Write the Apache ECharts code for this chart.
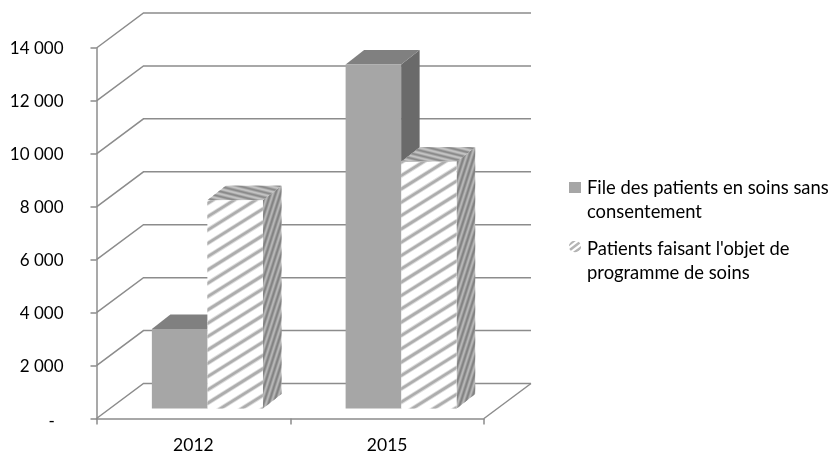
<!DOCTYPE html>
<html>
<head>
<meta charset="utf-8">
<script src="https://cdn.jsdelivr.net/npm/echarts@6/dist/echarts.min.js"></script>
<style>html,body{margin:0;padding:0;background:#fff}#c{width:833px;height:453px}</style>
</head>
<body>
<div id="c"></div>
<script>
var categories = ['2012', '2015'];
var seriesFile = [3000, 13000];
var seriesProgramme = [7870, 9320];
var yTicks = [0, 2000, 4000, 6000, 8000, 10000, 12000, 14000];
var seriesNames = ['File des patients en soins sans consentement', "Patients faisant l'objet de programme de soins"];
var legendLabels = ['File des patients en soins sans\nconsentement', "Patients faisant l'objet de\nprogramme de soins"];

var FONT = 'Lato';
var GREY = '#8c8c8c';
var WALL = [47, 35];      // projected depth of the floor
var LIFT = [14, 10];      // bars stand this far into the floor
var BAR = [18.5, 14.5];   // projected depth of a bar
var BAR_FRAC = 0.2865;    // bar width as share of the category band

function legendIcon(kind, offset) {
  var c = document.createElement('canvas');
  c.width = 12; c.height = 40;
  var g = c.getContext('2d');
  if (kind === 0) {
    g.fillStyle = '#a6a6a6';
    g.fillRect(0, offset, 12, 11);
  } else {
    g.save();
    g.beginPath();
    g.ellipse(6, offset + 5.5, 6.2, 5.8, 0, 0, Math.PI * 2);
    g.clip();
    g.strokeStyle = '#b4b4b4';
    g.lineWidth = 2.6;
    [-3, 3, 9, 15, 21].forEach(function (d) {
      g.beginPath();
      g.moveTo(-2, offset + d + 2);
      g.lineTo(14, offset + d - 10);
      g.stroke();
    });
    g.restore();
  }
  return 'image://' + c.toDataURL();
}

function polygon(points, fill) {
  return { type: 'polygon', shape: { points: points }, style: { fill: fill } };
}

// Fills a face with a base colour and clipped stripes running along (dx, dy).
function hatchedFace(points, base, stripe, dx, dy, period, width, soft) {
  var xs = points.map(function (p) { return p[0]; });
  var ys = points.map(function (p) { return p[1]; });
  var cx = (Math.min.apply(null, xs) + Math.max.apply(null, xs)) / 2;
  var len = Math.sqrt(dx * dx + dy * dy);
  var ux = dx / len, uy = dy / len, nx = -uy, ny = ux;
  var reach = 400, children = [];
  var lo = Infinity, hi = -Infinity;
  points.forEach(function (p) {
    var d = p[0] * nx + p[1] * ny;
    if (d < lo) lo = d;
    if (d > hi) hi = d;
  });
  var start = Math.floor(lo / period) * period;
  for (var d = start; d <= hi + period; d += period) {
    var mx = nx * d, my = ny * d;
    var t = (cx - mx) * ux + (ys[0] - my) * uy;
    var ax = mx + ux * (t - reach), ay = my + uy * (t - reach);
    var bx = mx + ux * (t + reach), by = my + uy * (t + reach);
    [[width + 1.8, soft], [width, stripe]].forEach(function (s) {
      children.push({
        type: 'line',
        shape: { x1: ax, y1: ay, x2: bx, y2: by },
        style: { stroke: s[1], lineWidth: s[0], fill: null }
      });
    });
  }
  return {
    type: 'group',
    children: [
      polygon(points, base),
      { type: 'group', clipPath: { type: 'polygon', shape: { points: points } }, children: children }
    ]
  };
}

function barRenderer(seriesIndex) {
  return function (params, api) {
    var cat = api.value(0), val = api.value(1);
    var top = api.coord([cat, val]), base = api.coord([cat, 0]);
    var bw = api.size([1, 0])[0] * BAR_FRAC;
    var x0 = top[0] + LIFT[0] + (seriesIndex === 0 ? -bw : 0);
    var x1 = x0 + bw;
    var yTop = top[1] - LIFT[1], yBase = base[1] - LIFT[1];
    var front = [[x0, yTop], [x1, yTop], [x1, yBase], [x0, yBase]];
    var roof = [[x0, yTop], [x1, yTop], [x1 + BAR[0], yTop - BAR[1]], [x0 + BAR[0], yTop - BAR[1]]];
    var side = [[x1, yTop], [x1 + BAR[0], yTop - BAR[1]], [x1 + BAR[0], yBase - BAR[1]], [x1, yBase]];
    if (seriesIndex === 0) {
      return { type: 'group', children: [polygon(side, '#6a6a6a'), polygon(roof, '#808080'), polygon(front, '#a6a6a6')] };
    }
    return {
      type: 'group',
      children: [
        hatchedFace(side, '#b8b8b8', '#828282', 4.5, -14, 4.8, 1.5, '#9c9c9c'),
        hatchedFace(roof, '#c4c4c4', '#8a8a8a', 16, 4, 4.9, 1.5, '#a8a8a8'),
        hatchedFace(front, '#ffffff', '#adadad', 16, -10, 11.3, 2.6, '#dcdcdc')
      ]
    };
  };
}

function gridRenderer(params, api) {
  var v = api.value(1);
  var band = api.size([1, 0])[0];
  var l = api.coord([0, v]), r = api.coord([categories.length - 1, v]);
  var xl = l[0] - band / 2, xr = r[0] + band / 2, y = l[1];
  var lineStyle = { stroke: GREY, lineWidth: 1.5, fill: null };
  var children = [{
    type: 'polyline',
    shape: { points: [[xl, y], [xl + WALL[0], y - WALL[1]], [xr + WALL[0], y - WALL[1]]] },
    style: lineStyle
  }];
  if (v === 0) {
    children.push({
      type: 'line',
      shape: { x1: xr, y1: y, x2: xr + WALL[0], y2: y - WALL[1] },
      style: lineStyle
    });
  }
  return { type: 'group', children: children };
}

function pairs(values) {
  return values.map(function (v, i) { return [i, v]; });
}

var chart = echarts.init(document.getElementById('c'), null, { renderer: 'canvas' });
chart.setOption({
  animation: false,
  backgroundColor: '#fff',
  grid: { left: 96.5, top: 48, width: 387.5, height: 370.5, containLabel: false, outerBoundsMode: 'none' },
  legend: {
    left: 569,
    top: 176,
    padding: 0,
    orient: 'vertical',
    selectedMode: false,
    itemWidth: 12,
    itemHeight: 40,
    itemGap: 13,
    formatter: function (name) { return legendLabels[seriesNames.indexOf(name)]; },
    textStyle: { fontFamily: FONT, fontSize: 18.4, lineHeight: 24, color: '#000', padding: [0, 0, 0, 1] },
    data: [
      { name: seriesNames[0], icon: legendIcon(0, 2) },
      { name: seriesNames[1], icon: legendIcon(1, 0) }
    ]
  },
  xAxis: {
    type: 'category',
    data: categories,
    axisLine: { lineStyle: { color: GREY, width: 1.5 } },
    axisTick: { show: true, length: 6, lineStyle: { color: GREY, width: 1.5 } },
    axisLabel: { fontFamily: FONT, fontSize: 17.5, color: '#000', margin: 18 },
    splitLine: { show: false }
  },
  yAxis: {
    type: 'value',
    min: 0,
    max: 14000,
    interval: 2000,
    axisLine: { show: true, lineStyle: { color: GREY, width: 1.5 } },
    axisTick: { show: true, length: 6, lineStyle: { color: GREY, width: 1.5 } },
    splitLine: { show: false },
    axisLabel: {
      fontFamily: FONT,
      fontSize: 17,
      color: '#000',
      margin: 33,
      padding: [2, 0, 0, 0],
      rich: { dash: { fontFamily: FONT, fontSize: 17, color: '#000', padding: [5, 0, 0, 0] } },
      formatter: function (v) {
        if (v === 0) return '{dash|-\u00a0\u00a0}';
        return String(v).replace(/(\d)(?=\d{3}$)/, '$1 ');
      }
    }
  },
  series: [
    { type: 'custom', name: 'grille', silent: true, renderItem: gridRenderer, encode: { x: 0, y: 1 }, data: yTicks.map(function (v) { return [0, v]; }), z: 1 },
    { type: 'custom', name: seriesNames[0], renderItem: barRenderer(0), encode: { x: 0, y: 1 }, data: pairs(seriesFile), itemStyle: { color: '#a6a6a6' }, z: 2 },
    { type: 'custom', name: seriesNames[1], renderItem: barRenderer(1), encode: { x: 0, y: 1 }, data: pairs(seriesProgramme), itemStyle: { color: '#b4b4b4' }, z: 3 }
  ]
});
</script>
</body>
</html>
